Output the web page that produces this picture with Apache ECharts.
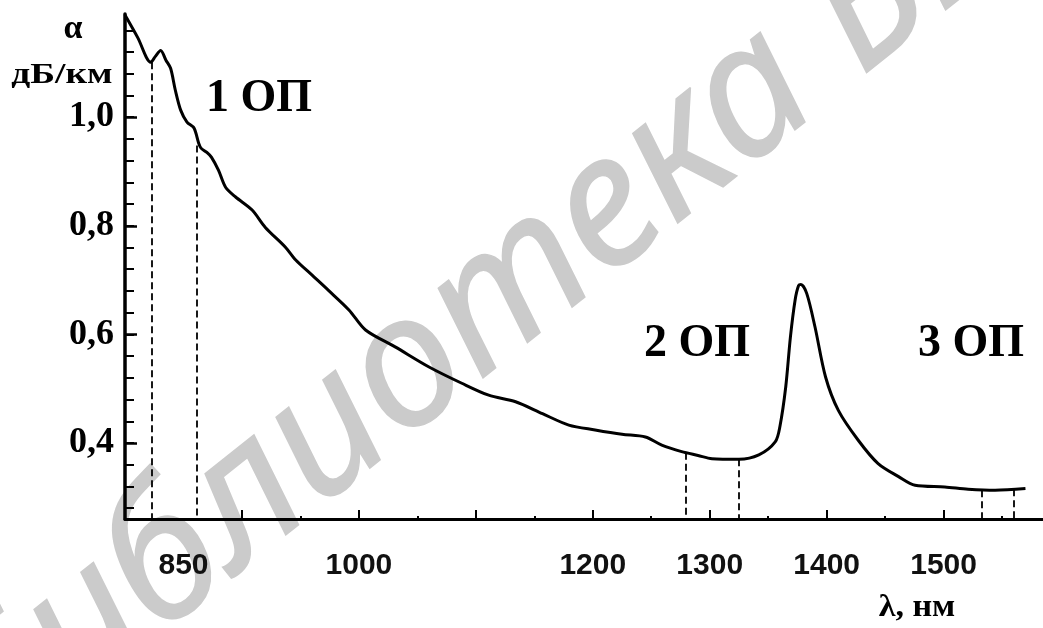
<!DOCTYPE html>
<html><head><meta charset="utf-8">
<script src="https://cdn.jsdelivr.net/npm/echarts@6/dist/echarts.min.js"></script>
<style>html,body{margin:0;padding:0;background:#fff}#c{width:1043px;height:628px}</style>
</head><body><div id="c"></div>
<script>
// Wavelength, nm
const wavelength = [800, 811, 822, 826, 830.5, 835, 839, 843, 847.6, 853, 859, 863, 865, 870, 874, 880, 886, 894.6, 908.7, 920, 937, 946, 960, 974, 991.5, 1005.7, 1031, 1060, 1088, 1111, 1134, 1157, 1179.5, 1202, 1225, 1245, 1259, 1276, 1290, 1302, 1325, 1342, 1356, 1360, 1365, 1369, 1373, 1376, 1378, 1383, 1390, 1399, 1410, 1427, 1444, 1461.5, 1475.6, 1501, 1521, 1544, 1570];
// Attenuation, dB/km
const attenuation = [1.188, 1.146, 1.101, 1.112, 1.123, 1.105, 1.09, 1.05, 1.013, 0.991, 0.98, 0.952, 0.943, 0.935, 0.926, 0.902, 0.871, 0.853, 0.829, 0.797, 0.761, 0.737, 0.709, 0.681, 0.645, 0.608, 0.577, 0.540, 0.510, 0.488, 0.476, 0.454, 0.433, 0.424, 0.416, 0.411, 0.396, 0.384, 0.377, 0.371, 0.370, 0.378, 0.402, 0.430, 0.503, 0.595, 0.663, 0.690, 0.692, 0.675, 0.614, 0.522, 0.460, 0.405, 0.362, 0.338, 0.322, 0.319, 0.315, 0.313, 0.316];
// Transparency window edges (dashed lines)
const windowEdgeWavelength = [822.5, 861, 1279.5, 1325, 1532.5, 1560];
const windowEdgeAttenuation = [1.101, 0.948, 0.382, 0.370, 0.313, 0.315];
// Axis ticks / labels
const xLabelValues = [850, 1000, 1200, 1300, 1400, 1500];
const xMajorTicks = [900, 1000, 1100, 1200, 1300, 1400, 1500];
const xMinorTicks = [950, 1050, 1150, 1250, 1350, 1450, 1550];
const yLabelValues = [0.4, 0.6, 0.8, 1.0];
const yTickValues = [0.28, 0.32, 0.36, 0.40, 0.44, 0.48, 0.52, 0.56, 0.60, 0.64, 0.68, 0.72, 0.76, 0.80, 0.84, 0.88, 0.92, 0.96, 1.00, 1.04, 1.08, 1.12, 1.16];
const windowLabels = ['1 ОП', '2 ОП', '3 ОП'];
const yName = ['α', 'дБ/км'];
const xName = 'λ, нм';
const watermark = 'Библиотека БГУИР';

const X_MIN = 800, X_MAX = 1585, Y_MIN = 0.26, Y_MAX = 1.19;
const serif = "'Liberation Serif', 'Times New Roman', serif";
const sans = "'Liberation Sans Narrow', 'Liberation Sans', Arial, sans-serif";

const chart = echarts.init(document.getElementById('c'), null, {renderer: 'canvas'});

const lineData = wavelength.map((w, i) => [w, attenuation[i]]);
const edgeLines = windowEdgeWavelength.map((w, i) => [
  {coord: [w, windowEdgeAttenuation[i]]},
  {coord: [w, Y_MIN]}
]);

function bigText(text, x, y, size, sx) {
  return {
    type: 'text', x: x, y: y, z: 10, scaleX: sx || 1,
    style: {text: text, fill: '#000', font: 'bold ' + size + 'px ' + serif, align: 'center', verticalAlign: 'middle'}
  };
}

chart.setOption({
  animation: false,
  backgroundColor: '#fff',
  grid: {left: 125, right: 0, top: 14, bottom: 109, containLabel: false},
  xAxis: [{
    type: 'value', min: X_MIN, max: X_MAX, position: 'bottom',
    axisLine: {show: true, onZero: false, lineStyle: {color: '#000', width: 3}},
    axisTick: {show: true, inside: true, length: 9, customValues: xMajorTicks, lineStyle: {color: '#000', width: 2}},
    axisLabel: {show: true, customValues: xLabelValues, margin: 32, color: '#111',
      fontFamily: sans, fontWeight: 'bold', fontSize: 30, formatter: v => String(v)},
    splitLine: {show: false}
  }, {
    type: 'value', min: X_MIN, max: X_MAX, position: 'bottom', offset: 0,
    axisLine: {show: false},
    axisTick: {show: true, inside: true, length: 3, customValues: xMinorTicks, lineStyle: {color: '#000', width: 2}},
    axisLabel: {show: false},
    splitLine: {show: false}
  }],
  yAxis: [{
    type: 'value', min: Y_MIN, max: Y_MAX, position: 'left',
    axisLine: {show: true, onZero: false, lineStyle: {color: '#000', width: 3.5}},
    axisTick: {show: true, inside: true, length: 9, customValues: yTickValues, lineStyle: {color: '#000', width: 2}},
    axisLabel: {show: true, customValues: yLabelValues, margin: 11, color: '#000',
      fontFamily: serif, fontWeight: 'bold', fontSize: 36,
      formatter: v => v.toFixed(1).replace('.', ',')},
    splitLine: {show: false}
  }, {
    type: 'value', min: Y_MIN, max: Y_MAX, position: 'left', offset: 0,
    axisLine: {show: false},
    axisTick: {show: true, inside: true, length: 12, customValues: yLabelValues, lineStyle: {color: '#000', width: 2.5}},
    axisLabel: {show: false},
    splitLine: {show: false}
  }],
  graphic: [
    {
      type: 'text', x: 599, y: 219, rotation: 38.5 * Math.PI / 180, z: 0, silent: true,
      style: {text: watermark, fill: '#cbcbcb', stroke: '#cbcbcb', lineWidth: 1.5,
        font: 'italic 183px "Noto Sans", "Open Sans", sans-serif', align: 'center', verticalAlign: 'middle'}
    },
    bigText(yName[0], 73, 29, 34),
    bigText(yName[1], 62, 75, 30, 1.25),
    bigText(windowLabels[0], 259, 99, 46),
    bigText(windowLabels[1], 697, 344, 46),
    bigText(windowLabels[2], 971, 344, 46),
    bigText(xName, 917, 608, 31, 1.1)
  ],
  series: [{
    type: 'line', xAxisIndex: 0, yAxisIndex: 0, z: 5,
    data: lineData, showSymbol: false, smooth: 0.3,
    lineStyle: {color: '#000', width: 3},
    markLine: {
      silent: true, symbol: ['none', 'none'], label: {show: false},
      lineStyle: {color: '#000', width: 1.8, type: [7, 4]},
      data: edgeLines
    }
  }]
});
</script>
</body></html>
